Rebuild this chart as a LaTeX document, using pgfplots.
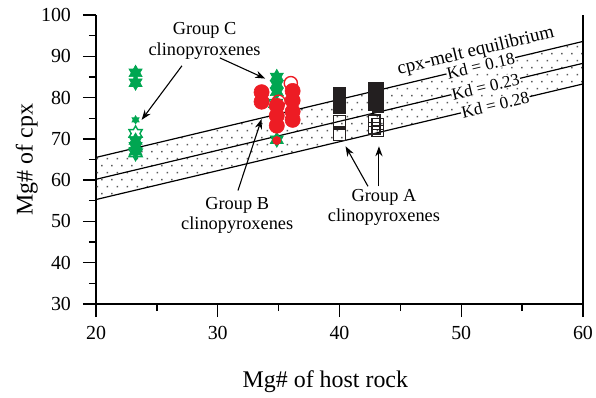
\documentclass[border=0pt]{standalone}
\usepackage{fontspec}
\setmainfont{Liberation Serif}
\usepackage{pgfplots}
\pgfplotsset{compat=1.18}
\usepgfplotslibrary{fillbetween}
\usetikzlibrary{patterns.meta,arrows.meta}

\definecolor{cgreen}{RGB}{0,166,81}
\definecolor{cred}{RGB}{237,28,36}
\definecolor{cblack}{RGB}{35,31,32}

\tikzdeclarepattern{
  name=sdots,
  type=uncolored,
  bottom left={(0pt,0pt)},
  top right={(4.8pt,7pt)},
  tile size={(4.8pt,7pt)},
  code={
    \fill (0.8pt,0.8pt) rectangle (1.6pt,1.6pt);
    \fill (3.2pt,4.3pt) rectangle (4.0pt,5.1pt);
  }
}

\pgfdeclareplotmark{hexstar}{%
 \pgfpathmoveto{\pgfpointpolar{90}{\pgfplotmarksize}}%
 \pgfpathlineto{\pgfpointpolar{120}{0.577\pgfplotmarksize}}%
 \pgfpathlineto{\pgfpointpolar{150}{\pgfplotmarksize}}%
 \pgfpathlineto{\pgfpointpolar{180}{0.577\pgfplotmarksize}}%
 \pgfpathlineto{\pgfpointpolar{210}{\pgfplotmarksize}}%
 \pgfpathlineto{\pgfpointpolar{240}{0.577\pgfplotmarksize}}%
 \pgfpathlineto{\pgfpointpolar{270}{\pgfplotmarksize}}%
 \pgfpathlineto{\pgfpointpolar{300}{0.577\pgfplotmarksize}}%
 \pgfpathlineto{\pgfpointpolar{330}{\pgfplotmarksize}}%
 \pgfpathlineto{\pgfpointpolar{0}{0.577\pgfplotmarksize}}%
 \pgfpathlineto{\pgfpointpolar{30}{\pgfplotmarksize}}%
 \pgfpathlineto{\pgfpointpolar{60}{0.577\pgfplotmarksize}}%
 \pgfpathclose
 \pgfusepathqfillstroke
}
\pgfdeclareplotmark{ohexstar}{%
 \pgfpathmoveto{\pgfpointpolar{90}{\pgfplotmarksize}}%
 \pgfpathlineto{\pgfpointpolar{120}{0.577\pgfplotmarksize}}%
 \pgfpathlineto{\pgfpointpolar{150}{\pgfplotmarksize}}%
 \pgfpathlineto{\pgfpointpolar{180}{0.577\pgfplotmarksize}}%
 \pgfpathlineto{\pgfpointpolar{210}{\pgfplotmarksize}}%
 \pgfpathlineto{\pgfpointpolar{240}{0.577\pgfplotmarksize}}%
 \pgfpathlineto{\pgfpointpolar{270}{\pgfplotmarksize}}%
 \pgfpathlineto{\pgfpointpolar{300}{0.577\pgfplotmarksize}}%
 \pgfpathlineto{\pgfpointpolar{330}{\pgfplotmarksize}}%
 \pgfpathlineto{\pgfpointpolar{0}{0.577\pgfplotmarksize}}%
 \pgfpathlineto{\pgfpointpolar{30}{\pgfplotmarksize}}%
 \pgfpathlineto{\pgfpointpolar{60}{0.577\pgfplotmarksize}}%
 \pgfpathclose
 \pgfusepathqstroke
}

\newcommand{\annfont}{\fontsize{9.2}{10.2}\selectfont}
\newcommand{\kdfont}{\fontsize{8.6}{10}\selectfont}

\begin{document}
\begin{tikzpicture}
\begin{axis}[
  name=ax,
  scale only axis,
  width=243.5bp, height=144.5bp,
  xmin=20, xmax=60, ymin=30, ymax=100,
  axis x line*=bottom, axis y line*=left,
  axis line style={line width=0.7pt, black},
  xtick={20,30,...,60}, ytick={30,40,...,100},
  minor x tick num=1, minor y tick num=1,
  tick align=outside,
  major tick length=6.5bp, minor tick length=3.5bp,
  every tick/.style={line width=0.7pt, black},
  tick label style={font=\fontsize{10}{12}\selectfont},
  yticklabel style={xshift=-2.5bp},
  xticklabel style={yshift=-1bp},
  /pgf/number format/assume math mode=true,
  xlabel={Mg\# of host rock}, ylabel={Mg\# of cpx},
  label style={font=\fontsize{12}{14}\selectfont},
  xlabel style={at={(axis description cs:0.471,-0.27)}, anchor=center},
  ylabel style={at={(axis description cs:-0.142,0.5)}, anchor=center},
  clip=false,
]
% equilibrium band
\addplot[draw=none, name path=kdtop, forget plot] coordinates {(20,65.5) (60,93.6)};
\addplot[draw=none, name path=kdbot, forget plot] coordinates {(20,55.3) (60,83.3)};
\addplot[pattern=sdots, pattern color=black!65, draw=none] fill between[of=kdtop and kdbot];
\addplot[black, line width=0.6pt] coordinates {(20,65.5) (60,93.6)}
  node[pos=0.79, sloped, fill=white, inner sep=0.3pt, font=\kdfont] {Kd = 0.18};
\addplot[black, line width=0.6pt] coordinates {(20,60.2) (60,88.3)}
  node[pos=0.80, sloped, fill=white, inner sep=0.3pt, font=\kdfont] {Kd = 0.23};
\addplot[black, line width=0.6pt] coordinates {(20,55.3) (60,83.3)}
  node[pos=0.82, sloped, fill=white, inner sep=0.3pt, font=\kdfont] {Kd = 0.28};
\node[rotate=13.35, inner sep=0pt, font=\fontsize{9.5}{11}\selectfont] at (axis cs:51.2,91.2) {cpx-melt equilibrium};

% Group C (green stars)
\addplot[only marks, mark=hexstar, mark size=3.8bp, color=cgreen, mark options={fill=cgreen, line width=0.3pt}]
  coordinates {(23.25,86.0) (23.25,83.6) (23.25,69.6) (23.25,68.2) (23.25,67.0)
               (34.85,85.0) (34.85,83.2) (34.85,81.4) (34.85,69.8)};
\addplot[only marks, mark=hexstar, mark size=2.1bp, color=cgreen, mark options={fill=cgreen, line width=0.3pt}]
  coordinates {(23.25,74.6)};
\addplot[only marks, mark=ohexstar, mark size=3.8bp, color=cgreen, mark options={line width=0.7pt}]
  coordinates {(23.25,71.3) (23.25,66.6) (34.75,78.6)};

% Group B (red circles)
\addplot[only marks, mark=*, mark size=3.8bp, color=cred, mark options={fill=cred, line width=0.3pt}]
  coordinates {(33.6,81.3) (33.6,79.0) (34.85,78.0) (34.85,75.6) (34.85,73.2)
               (36.15,81.6) (36.15,79.3) (36.15,76.6) (36.15,74.6)};
\addplot[only marks, mark=*, mark size=2.0bp, color=cred, mark options={fill=cred}]
  coordinates {(34.85,69.6)};
\addplot[only marks, mark=o, mark size=3.3bp, color=cred, mark options={line width=0.7pt}]
  coordinates {(36.0,83.5) (35.0,79.0)};

% Group A (black squares)
\addplot[only marks, mark=square*, mark size=2.85bp, color=cblack, mark options={fill=cblack}]
  coordinates {(40.0,81.2) (40.0,79.4) (40.0,77.6)
               (42.85,82.3) (43.15,82.3) (42.85,80.3) (43.15,80.3) (42.85,78.2) (43.15,77.8)};
\addplot[only marks, mark=square, mark size=2.85bp, color=cblack, mark options={line width=0.7pt}]
  coordinates {(40.0,74.3) (40.0,71.0) (42.85,74.4) (43.15,73.6) (42.85,72.6) (43.15,71.9)};

% annotations
\node[align=center, font=\annfont] at (axis cs:28.92,93.7) {Group C\\clinopyroxenes};
\node[align=center, font=\annfont] at (axis cs:31.6,51.5) {Group B\\clinopyroxenes};
\node[align=center, font=\annfont] at (axis cs:43.65,53.4) {Group A\\clinopyroxenes};
\draw[-{Stealth[length=5bp,width=3.6bp]}, line width=0.55pt] (axis cs:27.06,87.7) -- (axis cs:23.75,74.6);
\draw[-{Stealth[length=5bp,width=3.6bp]}, line width=0.55pt] (axis cs:30.18,89.6) -- (axis cs:33.9,84.6);
\draw[-{Stealth[length=5bp,width=3.6bp]}, line width=0.55pt] (axis cs:31.66,57.5) -- (axis cs:33.6,74.8);
\draw[-{Stealth[length=5bp,width=3.6bp]}, line width=0.55pt] (axis cs:42.34,58.5) -- (axis cs:40.5,68.2);
\draw[-{Stealth[length=5bp,width=3.6bp]}, line width=0.55pt] (axis cs:43.24,58.5) -- (axis cs:43.24,68.2);
% right frame line
\draw[line width=0.7pt, black] (rel axis cs:1,0) -- (rel axis cs:1,1);
\end{axis}
\pgfresetboundingbox
\path[use as bounding box] ([xshift=-48bp,yshift=-47bp]ax.south west) rectangle ([xshift=6.5bp,yshift=7.5bp]ax.north east);
\end{tikzpicture}
\end{document}
